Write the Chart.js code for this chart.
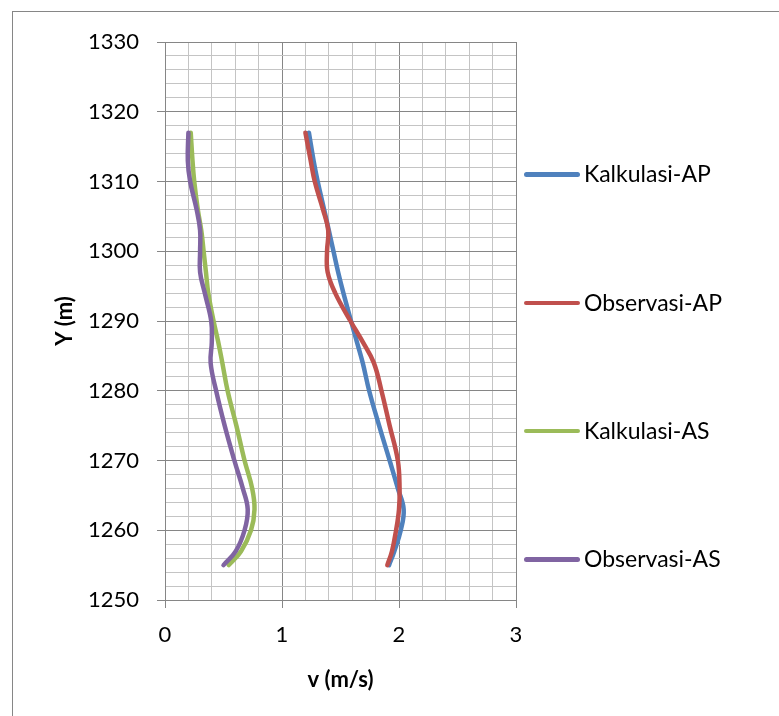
<!DOCTYPE html>
<html>
<head>
<meta charset="utf-8">
<script src="https://cdn.jsdelivr.net/npm/chart.js@4.4.0/dist/chart.umd.min.js"></script>
<style>
  html, body { margin: 0; padding: 0; background: #fff; overflow: hidden; }
  #wrap { position: relative; width: 779px; height: 716px; overflow: hidden; }
  #frame { position: absolute; left: 12px; top: 11px; width: 800px; height: 800px; border: 1px solid #868686; }
  #chart { position: absolute; left: 0; top: 0; }
  .leg { position: absolute; left: 524px; height: 26px; font: 23px Lato, sans-serif; color: #000; white-space: nowrap; }
  .leg span.ln { position: absolute; left: 0; top: 11px; width: 56px; height: 4.5px; border-radius: 3px; }
  .leg span.tx { position: absolute; left: 60px; top: -1px; line-height: 26px; }
</style>
</head>
<body>
<div id="wrap">
  <div id="frame"></div>
  <canvas id="chart" width="779" height="716"></canvas>
  <div id="legend"></div>
</div>
<script>
var depths = [1317, 1313, 1310, 1306, 1303, 1300, 1297, 1294, 1290, 1287, 1284, 1280, 1275, 1270, 1266, 1263, 1260, 1257, 1255];

var kalkulasiAP = [1.23, 1.27, 1.305, 1.36, 1.40, 1.44, 1.48, 1.525, 1.59, 1.64, 1.69, 1.745, 1.83, 1.92, 1.99, 2.04, 2.015, 1.96, 1.915];
var observasiAP = [1.20, 1.245, 1.28, 1.35, 1.395, 1.385, 1.39, 1.455, 1.585, 1.69, 1.785, 1.85, 1.92, 1.99, 2.005, 2.0, 1.975, 1.94, 1.90];
var kalkulasiAS = [0.22, 0.235, 0.25, 0.28, 0.31, 0.33, 0.35, 0.37, 0.415, 0.455, 0.49, 0.535, 0.61, 0.68, 0.745, 0.765, 0.735, 0.65, 0.545];
var observasiAS = [0.20, 0.195, 0.215, 0.27, 0.30, 0.30, 0.30, 0.34, 0.395, 0.40, 0.39, 0.437, 0.51, 0.593, 0.665, 0.707, 0.68, 0.605, 0.50];

var seriesNames = ['Kalkulasi-AP', 'Observasi-AP', 'Kalkulasi-AS', 'Observasi-AS'];
var seriesColors = ['#4F81BD', '#C0504D', '#9BBB59', '#8064A2'];
var seriesValues = [kalkulasiAP, observasiAP, kalkulasiAS, observasiAS];

var majorGrid = '#868686';
var minorGrid = '#c4c4c4';

function toPoints(values) {
    return values.map(function (v, i) { return { x: v, y: depths[i] }; });
}

function isMajor(value, every) {
    var q = value / every;
    return Math.abs(q - Math.round(q)) < 1e-6;
}

var datasets = seriesValues.map(function (vals, i) {
    return {
        label: seriesNames[i],
        data: toPoints(vals),
        showLine: true,
        borderColor: seriesColors[i],
        backgroundColor: seriesColors[i],
        borderWidth: 4.5,
        borderCapStyle: 'round',
        borderJoinStyle: 'round',
        pointRadius: 0,
        tension: 0.4,
        fill: false,
        order: 4 - i
    };
});

function zeroPad(scale) {
    scale.paddingTop = 0;
    scale.paddingBottom = 0;
    scale.paddingLeft = 0;
    scale.paddingRight = 0;
}

var config = {
    type: 'scatter',
    data: { datasets: datasets },
    options: {
        responsive: false,
        animation: false,
        layout: { padding: { left: 0, top: 42, right: 263, bottom: 0 } },
        plugins: {
            legend: { display: false },
            tooltip: { enabled: false }
        },
        scales: {
            x: {
                type: 'linear',
                min: 0,
                max: 3,
                border: { display: true, color: majorGrid, width: 1 },
                grid: {
                    color: function (c) { return isMajor(c.tick.value, 1) ? majorGrid : minorGrid; },
                    tickColor: function (c) { return isMajor(c.tick.value, 1) ? majorGrid : 'rgba(0,0,0,0)'; },
                    tickLength: 8,
                    lineWidth: 1
                },
                ticks: {
                    stepSize: 0.2,
                    autoSkip: false,
                    maxRotation: 0,
                    padding: 14,
                    color: '#000',
                    font: { family: 'Lato', size: 22, lineHeight: 1.2 },
                    callback: function (v) { return isMajor(v, 1) ? String(Math.round(v)) : ''; }
                },
                title: {
                    display: true,
                    text: 'v (m/s)',
                    color: '#000',
                    font: { family: 'Lato', size: 22, weight: 'bold', lineHeight: 1.2 },
                    padding: { top: 0, bottom: 23 }
                },
                afterFit: function (scale) { scale.height = 116; zeroPad(scale); }
            },
            y: {
                type: 'linear',
                min: 1250,
                max: 1330,
                border: { display: true, color: majorGrid, width: 1 },
                grid: {
                    color: function (c) { return isMajor(c.tick.value, 10) ? majorGrid : minorGrid; },
                    tickColor: function (c) { return isMajor(c.tick.value, 10) ? majorGrid : 'rgba(0,0,0,0)'; },
                    tickLength: 8,
                    lineWidth: 1
                },
                ticks: {
                    stepSize: 2,
                    autoSkip: false,
                    padding: 18,
                    color: '#000',
                    font: { family: 'Lato', size: 22, lineHeight: 1.2 },
                    callback: function (v) { return isMajor(v, 10) ? String(Math.round(v)) : ''; }
                },
                title: {
                    display: true,
                    text: 'Y (m)',
                    color: '#000',
                    font: { family: 'Lato', size: 22, weight: 'bold', lineHeight: 1.2 },
                    padding: { top: 52, bottom: 0 }
                },
                afterFit: function (scale) { scale.width = 165; zeroPad(scale); }
            }
        }
    }
};

// legend placed on the right like the original, spread out vertically
var legendCenters = [174, 302.5, 430.5, 559];
var legendBox = document.getElementById('legend');
seriesNames.forEach(function (name, i) {
    var item = document.createElement('div');
    item.className = 'leg';
    item.style.top = (legendCenters[i] - 13) + 'px';
    item.innerHTML = '<span class="ln" style="background:' + seriesColors[i] + '"></span><span class="tx"></span>';
    item.querySelector('.tx').textContent = name;
    legendBox.appendChild(item);
});

window.onload = function () {
    var ctx = document.getElementById('chart').getContext('2d');
    window.myChart = new Chart(ctx, config);
};
</script>
</body>
</html>
